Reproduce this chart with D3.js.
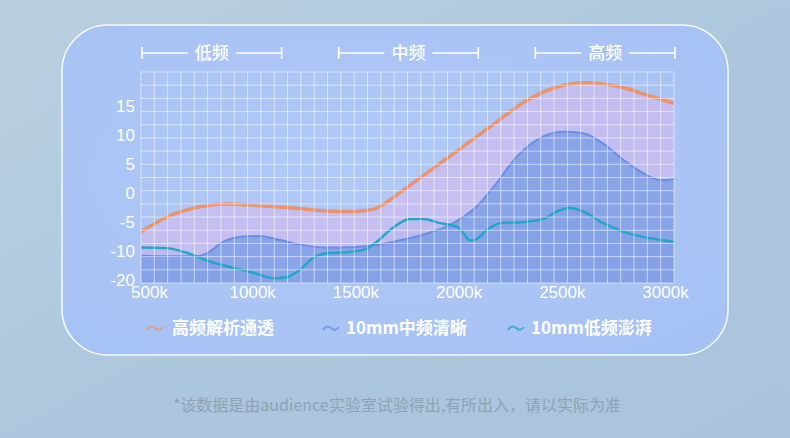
<!DOCTYPE html>
<html>
<head>
<meta charset="utf-8">
<script src="https://cdn.jsdelivr.net/npm/d3@7.9.0/dist/d3.min.js"></script>
<style>
  html, body { margin: 0; padding: 0; }
  body { width: 790px; height: 438px; overflow: hidden; }
  svg { display: block; font-family: "Noto Sans CJK SC", "Noto Sans", sans-serif; }
</style>
</head>
<body>
<div id="chart"></div>
<script>
// frequency in k, response values
const highFreq = [
  [500, -6.7], [625, -4.1], [750, -2.6], [900, -1.9], [1060, -2.2], [1215, -2.6],
  [1370, -3.1], [1495, -3.2], [1580, -2.9], [1640, -1.9], [1690, -0.6], [1840, 3.4],
  [1990, 7.4], [2150, 11.7], [2300, 15.7], [2460, 18.3], [2585, 18.95], [2740, 18.3],
  [2900, 16.5], [3000, 15.4]
];
const midFreq = [
  [500, -10.8], [620, -10.9], [760, -10.9], [808, -10.4], [886, -8.4], [980, -7.5],
  [1058, -7.4], [1152, -8.1], [1246, -8.9], [1371, -9.4], [1496, -9.3], [1590, -9.05],
  [1670, -8.5], [1820, -7.2], [1949, -5.5], [2074, -2.35], [2168, 1.7], [2262, 6.2],
  [2356, 9.1], [2481, 10.5], [2574, 10.25], [2668, 8.5], [2762, 5.7], [2856, 3.4],
  [2934, 2.2], [3000, 2.35]
];
const lowFreq = [
  [500, -9.4], [620, -9.5], [714, -10.3], [823, -11.8], [933, -12.9], [1043, -13.9],
  [1121, -14.7], [1184, -14.5], [1246, -13.2], [1308, -11.2], [1371, -10.4], [1465, -10.2],
  [1543, -9.8], [1606, -8.4], [1668, -6.4], [1762, -4.5], [1824, -4.5], [1902, -5.2],
  [1981, -5.8], [2012, -6.9], [2043, -8.2], [2074, -7.95], [2121, -6.4], [2184, -5.2],
  [2293, -5.0], [2387, -4.5], [2450, -3.2], [2512, -2.6], [2574, -3.2], [2668, -5.2],
  [2762, -6.65], [2887, -7.8], [3000, -8.4]
];

const xTicks = [500, 1000, 1500, 2000, 2500, 3000];
const yTicks = [15, 10, 5, 0, -5, -10, -15];
const yTickLabels = ["15", "10", "5", "0", "-5", "-10", "-20"];
const bands = ["低频", "中频", "高频"];
const seriesNames = ["高频解析通透", "10mm中频清晰", "10mm低频澎湃"];
const footnote = "*该数据是由audience实验室试验得出,有所出入，请以实际为准";

const width = 790, height = 438;
const plot = { left: 141, right: 674, top: 72, bottom: 283 };

const svg = d3.select("#chart").append("svg")
  .attr("width", width).attr("height", height);

const defs = svg.append("defs");
const bg = defs.append("linearGradient").attr("id", "bg")
  .attr("x1", "0").attr("y1", "0").attr("x2", "1").attr("y2", "1");
bg.append("stop").attr("offset", "0").attr("stop-color", "#b9d0e0");
bg.append("stop").attr("offset", "0.6").attr("stop-color", "#abc6dd");
bg.append("stop").attr("offset", "1").attr("stop-color", "#a9c4dc");

const cardGrad = defs.append("radialGradient").attr("id", "card")
  .attr("cx", "0.45").attr("cy", "0.45").attr("r", "0.7");
cardGrad.append("stop").attr("offset", "0").attr("stop-color", "#b1c9f7");
cardGrad.append("stop").attr("offset", "1").attr("stop-color", "#a6c1f4");

defs.append("clipPath").attr("id", "plotClip")
  .append("rect")
  .attr("x", plot.left).attr("y", plot.top)
  .attr("width", plot.right - plot.left).attr("height", plot.bottom - plot.top);

svg.append("rect").attr("width", width).attr("height", height).attr("fill", "url(#bg)");

// card
svg.append("rect")
  .attr("x", 62).attr("y", 25).attr("width", 666).attr("height", 330)
  .attr("rx", 46)
  .attr("fill", "url(#card)")
  .attr("stroke", "#ffffff").attr("stroke-opacity", 0.9).attr("stroke-width", 1.5);

// scales
const x = d3.scaleLinear().domain([500, 3000]).range([plot.left, plot.right]);
const y = d3.scaleLinear().domain([-15.5, 20.8]).range([plot.bottom, plot.top]);
const xLabel = d3.scaleLinear().domain([500, 3000]).range([149, 665]);

// areas
const area = d3.area()
  .x(d => x(d[0])).y0(y(-15.5)).y1(d => y(d[1]))
  .curve(d3.curveMonotoneX);
const line = d3.line()
  .x(d => x(d[0])).y(d => y(d[1]))
  .curve(d3.curveMonotoneX);

const plotG = svg.append("g").attr("clip-path", "url(#plotClip)");
plotG.append("path").datum(highFreq).attr("d", area)
  .attr("fill", "#dcb8eb").attr("fill-opacity", 0.5);
plotG.append("path").datum(lowFreq).attr("d", area)
  .attr("fill", "#6f9fe0").attr("fill-opacity", 0.1);
plotG.append("path").datum(midFreq).attr("d", area)
  .attr("fill", "#5a8ee0").attr("fill-opacity", 0.55);

// grid
const gridX = d3.range(0, 41).map(i => 500 + i * 62.5);
const gridY = d3.range(0, 17).map(i => -15.5 + i * (36.3 / 16));
const grid = svg.append("g").attr("stroke", "#ffffff").attr("stroke-opacity", 0.55).attr("stroke-width", 1);
grid.selectAll("line.v").data(gridX).join("line").attr("class", "v")
  .attr("x1", d => x(d)).attr("x2", d => x(d))
  .attr("y1", plot.top).attr("y2", plot.bottom);
grid.selectAll("line.h").data(gridY).join("line").attr("class", "h")
  .attr("x1", plot.left).attr("x2", plot.right)
  .attr("y1", d => y(d)).attr("y2", d => y(d));

// lines
const colors = ["#e9926b", "#6a8de6", "#23a5c8"];
const lineWidths = [3.5, 2, 2.5];
[highFreq, midFreq, lowFreq].forEach((s, i) => {
  plotG.append("path").datum(s).attr("d", line)
    .attr("fill", "none").attr("stroke", colors[i])
    .attr("stroke-width", lineWidths[i]).attr("stroke-linecap", "round");
});

// axes
const yAxis = d3.axisLeft(y).tickValues(yTicks).tickSize(0).tickPadding(5)
  .tickFormat((d, i) => yTickLabels[i]);
const yG = svg.append("g").attr("transform", `translate(${plot.left - 1},0)`).call(yAxis);
yG.select(".domain").remove();
yG.selectAll("text").attr("fill", "#ffffff").attr("font-size", 17);

const xAxis = d3.axisBottom(xLabel).tickValues(xTicks).tickSize(0).tickPadding(3)
  .tickFormat(d => d + "k");
const xG = svg.append("g").attr("transform", `translate(0,${plot.bottom})`).call(xAxis);
xG.select(".domain").remove();
xG.selectAll("text").attr("fill", "#ffffff").attr("font-size", 17);

// band brackets
const bandScale = d3.scaleBand().domain(bands).range([142, 675]).paddingInner(0.29);
const bandG = svg.append("g").selectAll("g").data(bands).join("g")
  .attr("transform", d => `translate(${bandScale(d)},53)`);
const bw = bandScale.bandwidth();
bandG.append("text")
  .attr("x", bw / 2).attr("y", 6).attr("text-anchor", "middle")
  .attr("fill", "#ffffff").attr("font-size", 17).attr("font-weight", 500)
  .text(d => d);
bandG.append("path")
  .attr("d", `M0,-6V6M0,0H${bw / 2 - 24}M${bw / 2 + 24},0H${bw}M${bw},-6V6`)
  .attr("stroke", "#ffffff").attr("stroke-width", 1.6).attr("fill", "none");

// legend
const legendX = [147, 323, 508];
const legend = svg.append("g").selectAll("g").data(seriesNames).join("g")
  .attr("transform", (d, i) => `translate(${legendX[i]},328)`);
legend.append("path")
  .attr("d", "M0,2 Q4,-4 8,0 T16,-1")
  .attr("fill", "none")
  .attr("stroke", (d, i) => colors[i]).attr("stroke-opacity", 0.75)
  .attr("stroke-width", 2);
legend.append("text")
  .attr("x", (d, i) => i === 0 ? 25 : 23).attr("y", 6)
  .attr("fill", "#ffffff").attr("font-size", 17).attr("font-weight", 700)
  .text(d => d);

// footnote
svg.append("text")
  .attr("x", 397).attr("y", 411).attr("text-anchor", "middle")
  .attr("fill", "#8ea3b6").attr("font-size", 16)
  .text(footnote);
</script>
</body>
</html>
